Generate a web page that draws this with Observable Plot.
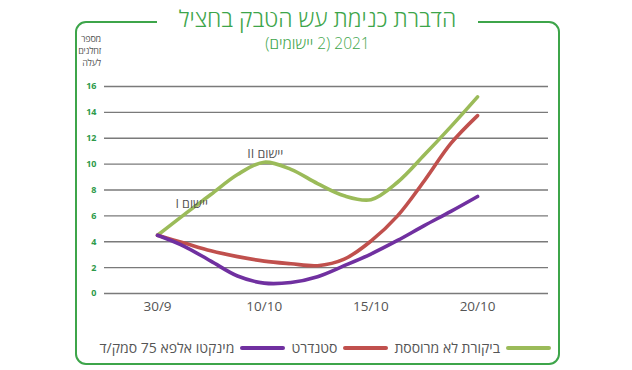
<!DOCTYPE html>
<html>
<head>
<meta charset="utf-8">
<script src="https://cdn.jsdelivr.net/npm/d3@7"></script>
<script src="https://cdn.jsdelivr.net/npm/@observablehq/plot@0.6"></script>
<style>
  html, body { margin: 0; padding: 0; background: #fff; }
  #wrap { position: relative; width: 632px; height: 370px; overflow: hidden; font-family: "Open Sans", "Liberation Sans", sans-serif; }
  #frame { position: absolute; left: 75px; top: 21px; width: 481px; height: 340px; border: 2px solid #3da54a; border-radius: 11px; }
  #title { position: absolute; left: 157px; width: 321px; top: 4px; text-align: center; background: #fff; color: #3da54a; font-size: 23px; line-height: 28px; font-weight: 300; direction: rtl; }
  #subtitle { position: absolute; left: 157px; width: 321px; top: 34px; text-align: center; color: #3da54a; font-size: 15.5px; line-height: 18px; font-weight: 300; direction: rtl; }
  #ylab { position: absolute; left: 70px; top: 33px; width: 31px; text-align: right; direction: rtl; color: #555; font-size: 9px; line-height: 12px; letter-spacing: -0.2px; }
  #legend { position: absolute; left: 75px; width: 476px; top: 338px; display: flex; justify-content: flex-start; align-items: center; direction: rtl; color: #555; font-size: 14px; gap: 6px; }
  .sw { display: inline-block; width: 45px; height: 4px; border-radius: 2px; }
  #chart { position: absolute; left: 0; top: 0; }
</style>
</head>
<body>
<div id="wrap">
  <div id="frame"></div>
  <div id="chart"></div>
  <div id="title"></div>
  <div id="subtitle"></div>
  <div id="ylab"></div>
  <div id="legend"></div>
</div>
<script>
const titleText = "הדברת כנימת עש הטבק בחציל";
const subtitleText = "2021 (2 יישומים)";
const yLabelLines = ["מספר", "זחלנים", "לעלה"];
const xTickPositions = [0, 1, 2, 3];
const xTickLabels = ["30/9", "10/10", "15/10", "20/10"];
const yTicks = [0, 2, 4, 6, 8, 10, 12, 14, 16];

// curve sample positions (in category units between dates)
const xPos = [0, 0.25, 0.5, 0.75, 1, 1.25, 1.5, 1.75, 2, 2.25, 2.5, 2.75, 3];
const seriesNames = ["ביקורת לא מרוססת", "סטנדרט", "מינקטו אלפא 75 סמק/ד"];
const seriesColors = ["#9bbb59", "#c0504d", "#7030a0"];
const controlValues  = [4.5, 6.1, 7.65, 9.2, 10.15, 9.6, 8.5, 7.55, 7.25, 8.6, 10.7, 12.9, 15.2];
const standardValues = [4.5, 3.9, 3.3, 2.85, 2.5, 2.3, 2.15, 2.65, 4.05, 6.0, 8.7, 11.6, 13.75];
const minktoValues   = [4.5, 3.65, 2.5, 1.35, 0.8, 0.85, 1.3, 2.15, 3.05, 4.1, 5.25, 6.35, 7.5];

const annoLabels = ["יישום I", "יישום II"];
const annoX = [0.32, 1.01];
const annoY = [6.95, 10.8];

const valuesBySeries = [controlValues, standardValues, minktoValues];
const rows = [];
valuesBySeries.forEach((vals, s) => vals.forEach((v, i) => rows.push({series: seriesNames[s], x: xPos[i], y: v})));
const annos = annoLabels.map((t, i) => ({t, x: annoX[i], y: annoY[i]}));

document.getElementById("title").textContent = titleText;
document.getElementById("subtitle").textContent = subtitleText;
document.getElementById("ylab").innerHTML = yLabelLines.map(s => `<div>${s}</div>`).join("");
document.getElementById("legend").innerHTML = seriesNames.map((n, i) =>
  `<span class="sw" style="background:${seriesColors[i]}"></span><span>${n}</span>`).join("");

const chart = Plot.plot({
  width: 632,
  height: 370,
  marginTop: 86,
  marginBottom: 77,
  marginLeft: 104,
  marginRight: 84,
  style: {fontFamily: "'Open Sans', 'Liberation Sans', sans-serif", background: "transparent", overflow: "visible"},
  x: {domain: [-0.497, 3.665], axis: null},
  y: {domain: [0, 16], axis: null},
  color: {domain: seriesNames, range: seriesColors},
  marks: [
    Plot.ruleY(yTicks, {stroke: "#7a7a7a", strokeWidth: 1.4}),
    Plot.axisY(yTicks, {tickSize: 0, tickPadding: 8, fill: "#2e9a4a", fontWeight: "bold", fontSize: 9, label: null}),
    Plot.axisX(xTickPositions, {tickSize: 0, tickPadding: 8, fill: "#555", fontSize: 13.5, label: null, tickFormat: (d, i) => xTickLabels[i]}),
    Plot.line(rows, {x: "x", y: "y", z: "series", stroke: "series", strokeWidth: 3.6, curve: "catmull-rom", strokeLinecap: "round"}),
    Plot.text(annos, {x: "x", y: "y", text: "t", fill: "#555", fontSize: 12.5, textAnchor: "middle"})
  ]
});
chart.querySelectorAll("text").forEach(t => {
  if (/[\u0590-\u05FF]/.test(t.textContent)) t.setAttribute("direction", "rtl");
});
document.getElementById("chart").appendChild(chart);
</script>
</body>
</html>
